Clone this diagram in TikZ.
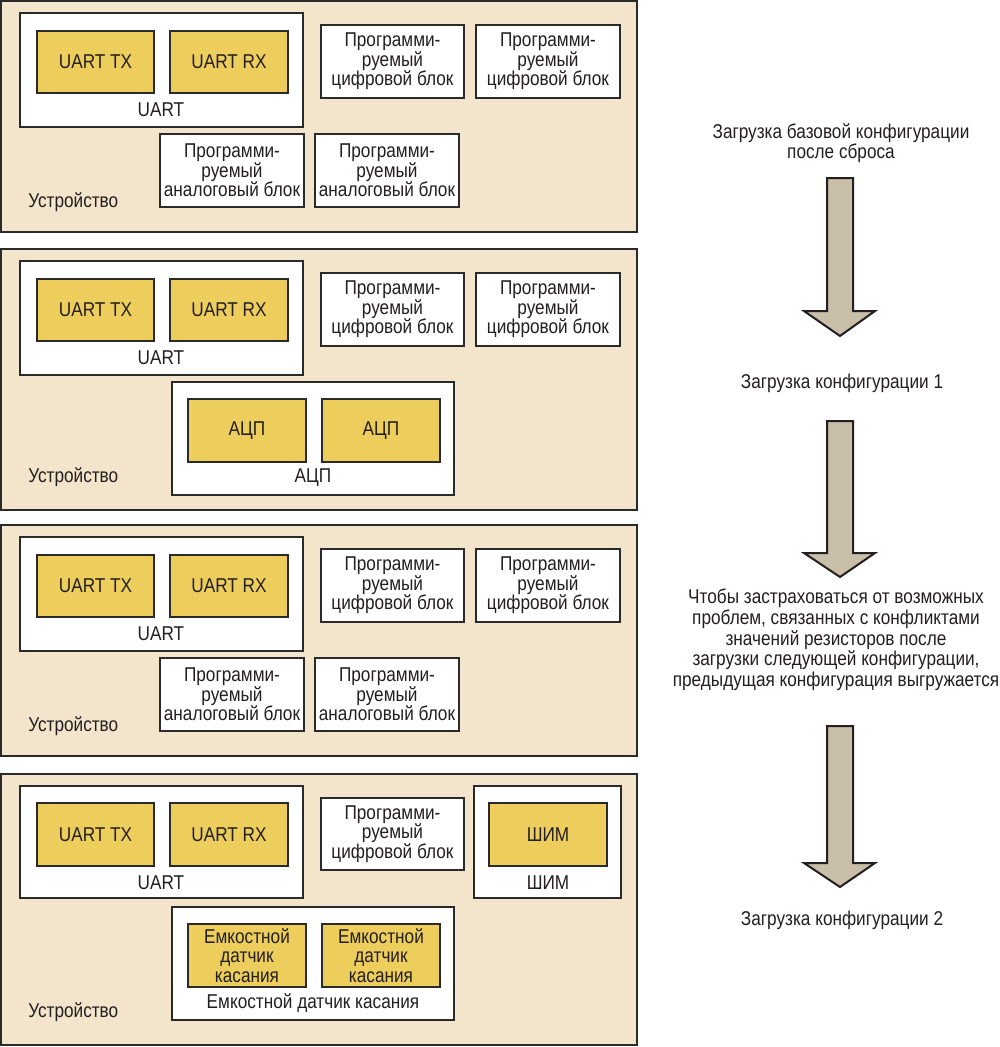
\documentclass[tikz,border=0pt]{standalone}
\usepackage{fontspec}
\setmainfont{Liberation Sans}[FakeStretch=0.86]
\definecolor{panelfill}{HTML}{F3E5CC}
\definecolor{yel}{HTML}{EDCD5B}
\definecolor{linec}{HTML}{2A2A2A}
\definecolor{txtc}{HTML}{231F20}
\definecolor{arrowfill}{HTML}{C9BEA8}
\newcommand\fz{\fontsize{15}{14.7}\selectfont}
\newcommand\mybox[7]{\node[#2, inner sep=0pt, outer sep=0pt,
  minimum width={((#5)-(#3))*0.75pt}, minimum height={((#6)-(#4))*0.75pt}]
  (#1) at ({((#3)+(#5))/2},{((#4)+(#6))/2}) {#7};}
\newcommand\panelA[2]{%
  \mybox{#1-dev}{panel}{1}{1+#2}{637}{232+#2}{}
  \mybox{#1-uart}{wbox}{20}{13+#2}{303}{127+#2}{}
  \mybox{#1-tx}{ybox}{37}{31+#2}{154}{93+#2}{UART TX}
  \mybox{#1-rx}{ybox}{170}{31+#2}{288}{93+#2}{UART RX}
  \node[txt] (#1-uartl) at (161,{110+#2}) {UART};
  \mybox{#1-d1}{wbox}{321}{25+#2}{464}{98+#2}{Программи-\\руемый\\цифровой блок}
  \mybox{#1-d2}{wbox}{476}{25+#2}{620}{98+#2}{Программи-\\руемый\\цифровой блок}
  \mybox{#1-a1}{wbox}{160}{134+#2}{304}{207+#2}{Программи-\\руемый\\аналоговый блок}
  \mybox{#1-a2}{wbox}{315}{134+#2}{459}{207+#2}{Программи-\\руемый\\аналоговый блок}
  \node[txt, anchor=west] (#1-devl) at (28,{202+#2}) {Устройство};
}
\newcommand\bigarrow[3]{%
  \draw[arrowst] (827,#1) -- (853,#1) -- (853,#2) -- (875,#2) -- (840,#3)
    -- (804,#2) -- (827,#2) -- cycle;}
\begin{document}
\begin{tikzpicture}[x=0.75pt,y=-0.75pt,
  txt/.style={text=txtc, font=\fz, align=center, inner sep=0pt},
  panel/.style={fill=panelfill, draw=linec, line width=1.5pt},
  wbox/.style={fill=white, draw=linec, line width=1.4pt, txt},
  ybox/.style={fill=yel, draw=linec, line width=1.4pt, txt},
  arrowst/.style={fill=arrowfill, draw=txtc, line width=1.5pt, line join=miter}]
\fill[white] (0,0) rectangle (1000,1047);
\useasboundingbox (0,0) rectangle (1000,1047);

% Panel 1
\panelA{p1}{0}

% Panel 2
\mybox{p2-dev}{panel}{1}{249}{637}{510}{}
\mybox{p2-uart}{wbox}{20}{261}{303}{375}{}
\mybox{p2-tx}{ybox}{37}{279}{154}{341}{UART TX}
\mybox{p2-rx}{ybox}{170}{279}{288}{341}{UART RX}
\node[txt] (p2-uartl) at (161,358) {UART};
\mybox{p2-d1}{wbox}{321}{273}{464}{346}{Программи-\\руемый\\цифровой блок}
\mybox{p2-d2}{wbox}{476}{273}{620}{346}{Программи-\\руемый\\цифровой блок}
\mybox{p2-adc}{wbox}{172}{382}{454}{495}{}
\mybox{p2-adc1}{ybox}{188}{399}{306}{462}{АЦП}
\mybox{p2-adc2}{ybox}{322}{399}{440}{462}{АЦП}
\node[txt] (p2-adcl) at (313,478) {АЦП};
\node[txt, anchor=west] (p2-devl) at (28,477) {Устройство};

% Panel 3
\panelA{p3}{524}

% Panel 4
\mybox{p4-dev}{panel}{1}{774}{637}{1045}{}
\mybox{p4-uart}{wbox}{20}{786}{303}{898}{}
\mybox{p4-tx}{ybox}{37}{803}{154}{866}{UART TX}
\mybox{p4-rx}{ybox}{170}{803}{288}{866}{UART RX}
\node[txt] (p4-uartl) at (161,883) {UART};
\mybox{p4-d1}{wbox}{321}{798}{464}{870}{Программи-\\руемый\\цифровой блок}
\mybox{p4-pwm}{wbox}{474}{786}{621}{898}{}
\mybox{p4-pwm1}{ybox}{489}{803}{607}{866}{ШИМ}
\node[txt] (p4-pwml) at (548,883) {ШИМ};
\mybox{p4-cap}{wbox}{172}{907}{454}{1020}{}
\mybox{p4-cap1}{ybox}{188}{924}{306}{987}{Емкостной\\датчик\\касания}
\mybox{p4-cap2}{ybox}{322}{924}{440}{987}{Емкостной\\датчик\\касания}
\node[txt] (p4-capl) at (313,1003) {Емкостной датчик касания};
\node[txt, anchor=west] (p4-devl) at (28,1012) {Устройство};

% Right column
\node[txt] (t0) at (841,143) {Загрузка базовой конфигурации\\после сброса};
\bigarrow{178}{311}{336}
\node[txt] (t1) at (842,383) {Загрузка конфигурации 1};
\bigarrow{421}{553}{577}
\node[txt, font={\fontsize{15}{15.5}\selectfont}] (t2) at (836,640) {Чтобы застраховаться от возможных\\проблем, связанных с конфликтами\\значений резисторов после\\загрузки следующей конфигурации,\\предыдущая конфигурация выгружается};
\bigarrow{726}{863}{887}
\node[txt] (t3) at (842,920) {Загрузка конфигурации 2};
\end{tikzpicture}
\end{document}
